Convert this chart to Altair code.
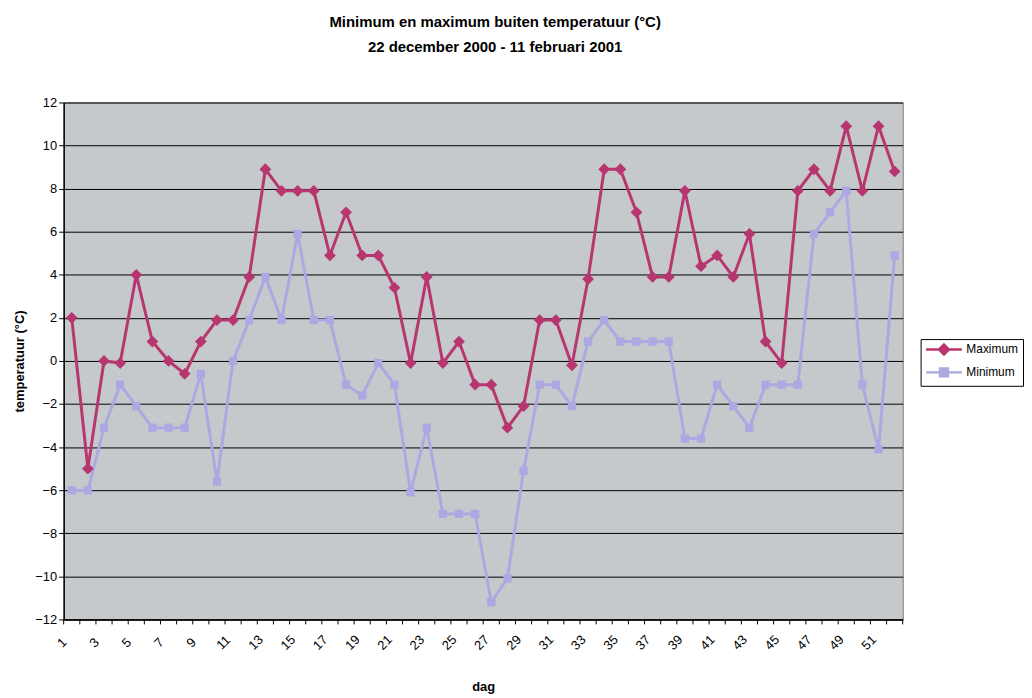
import altair as alt
import pandas as pd

# ---- data ----
days = list(range(1, 53))
maximum = [2, -5, 0, -0.1, 4, 0.9, 0, -0.6, 0.9, 1.9, 1.9, 3.9, 8.9, 7.9, 7.9, 7.9,
           4.9, 6.9, 4.9, 4.9, 3.4, -0.1, 3.9, -0.1, 0.9, -1.1, -1.1, -3.1, -2.1,
           1.9, 1.9, -0.2, 3.8, 8.9, 8.9, 6.9, 3.9, 3.9, 7.9, 4.4, 4.9, 3.9, 5.9,
           0.9, -0.1, 7.9, 8.9, 7.9, 10.9, 7.9, 10.9, 8.8]
minimum = [-6, -6, -3.1, -1.1, -2.1, -3.1, -3.1, -3.1, -0.6, -5.6, 0, 1.9, 3.9, 1.9,
           5.9, 1.9, 1.9, -1.1, -1.6, -0.1, -1.1, -6.1, -3.1, -7.1, -7.1, -7.1,
           -11.2, -10.1, -5.1, -1.1, -1.1, -2.1, 0.9, 1.9, 0.9, 0.9, 0.9, 0.9,
           -3.6, -3.6, -1.1, -2.1, -3.1, -1.1, -1.1, -1.1, 5.9, 6.9, 7.9, -1.1,
           -4.1, 4.9]
series_names = ["Maximum", "Minimum"]
series_colors = ["#b8366f", "#aca8e2"]
x_label_values = list(range(1, 52, 2))
y_tick_values = list(range(-12, 13, 2))
title_lines = ["Minimum en maximum buiten temperatuur (°C)",
               "22 december 2000 - 11 februari 2001"]

df = pd.DataFrame({"dag": days, "Maximum": maximum, "Minimum": minimum})
long_df = df.melt("dag", var_name="reeks", value_name="temp")
bounds_df = pd.DataFrame({"b": [d - 0.5 for d in days] + [days[-1] + 0.5]})

W, H = 844, 520
FONT = "Liberation Sans"

xscale = alt.Scale(domain=[days[0] - 0.5, days[-1] + 0.5], nice=False, zero=False)
yscale = alt.Scale(domain=[-12, 12], nice=False, zero=False)

x_axis = alt.Axis(values=x_label_values, ticks=False, grid=False, labelAngle=315,
                  labelAlign="center", labelBaseline="middle", labelPadding=23,
                  labelOffset=-10, labelFontSize=13, title="dag", titleFontSize=13,
                  titleFontWeight="bold", titlePadding=28, domainColor="black",
                  domainWidth=1.5, labelFlush=False, labelOverlap=False)
y_axis = alt.Axis(values=y_tick_values, grid=True, gridColor="black", gridWidth=1,
                  tickColor="black", tickSize=5, domainColor="black", domainWidth=1.5,
                  labelFontSize=13, labelPadding=2, title="temperatuur (°C)",
                  titleFontSize=13, titleFontWeight="bold", titlePadding=8)


def xenc(field):
    return alt.X(field, scale=xscale, axis=x_axis)


def yenc(field):
    return alt.Y(field, scale=yscale, axis=y_axis)


min_line = alt.Chart(df).mark_line(color=series_colors[1], strokeWidth=3).encode(
    x=xenc("dag:Q"), y=yenc("Minimum:Q"))
min_pts = alt.Chart(df).mark_point(shape="square", filled=True, size=70, opacity=1,
                                   color=series_colors[1]).encode(
    x=xenc("dag:Q"), y=yenc("Minimum:Q"))
max_line = alt.Chart(df).mark_line(color=series_colors[0], strokeWidth=3).encode(
    x=xenc("dag:Q"), y=yenc("Maximum:Q"))
max_pts = alt.Chart(df).mark_point(shape="diamond", filled=True, size=140, opacity=1,
                                   color=series_colors[0]).encode(
    x=xenc("dag:Q"), y=yenc("Maximum:Q"))

ticks = alt.Chart(bounds_df).mark_rule(color="black", strokeWidth=1).encode(
    x=xenc("b:Q"), y=alt.value(H), y2=alt.value(H + 5))

# legend-only layer (invisible marks), symbol = line with marker
sym_paths = ["M-1,0H6.2M2.6,-1L3.6,0L2.6,1L1.6,0Z",
             "M-1,0H6.2M1.8,-0.8H3.4V0.8H1.8Z"]
leg = alt.Legend(title=None, orient="none", legendX=W + 18, legendY=H / 2 - 22,
                 strokeColor="black", fillColor="white", padding=4,
                 symbolSize=100, symbolOpacity=1, symbolStrokeWidth=2.5,
                 labelFontSize=12, labelFont=FONT, labelOffset=29, rowPadding=3)
legend_layer = alt.Chart(long_df).mark_point(opacity=0, filled=True).encode(
    x=xenc("dag:Q"), y=yenc("temp:Q"),
    fill=alt.Fill("reeks:N", scale=alt.Scale(domain=series_names, range=series_colors), legend=leg),
    stroke=alt.Stroke("reeks:N", scale=alt.Scale(domain=series_names, range=series_colors), legend=leg),
    shape=alt.Shape("reeks:N", scale=alt.Scale(domain=series_names, range=sym_paths), legend=leg),
)

chart = alt.layer(min_line, min_pts, max_line, max_pts, ticks, legend_layer).properties(
    width=W, height=H,
    padding={"left": 5, "top": 5, "right": 0, "bottom": 0},
    title=alt.TitleParams(text=title_lines, fontSize=15, font=FONT, fontWeight="bold",
                          anchor="middle", dx=12, offset=42, lineHeight=25),
    background="white",
).configure_view(fill="#c6c9cb", stroke="#777777", strokeWidth=1).configure_axis(
    labelFont=FONT, titleFont=FONT, labelColor="black", titleColor="black")

chart.save("out.html", embed_options={"renderer": "svg", "actions": False})
